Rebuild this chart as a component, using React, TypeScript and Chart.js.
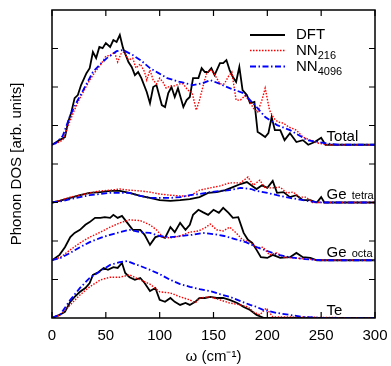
import React, { useEffect, useRef } from "react";
import { Chart, registerables } from "chart.js";

Chart.register(...registerables);

// ---- Data (DOS amplitudes in tick units, relative to each curve's baseline) ----
const OFFSET_TOTAL = 4.5;
const OFFSET_TETRA = 3.0;
const OFFSET_OCTA = 1.5;
const OFFSET_TE = 0;

const W_TOTAL_DFT = [0, 7, 12, 15, 18, 21, 24, 27, 32, 35, 38, 41, 44, 47, 50, 54, 57, 60, 63, 66, 71, 74, 77, 80, 83, 88, 91, 94, 97, 102, 105, 108, 111, 114, 117, 122, 125, 128, 131, 136, 139, 142, 145, 148, 151, 156, 159, 162, 165, 168, 171, 174, 177, 181, 184, 188, 191, 193, 198, 201, 204, 207, 212, 216, 221, 227, 233, 238, 244, 250, 254, 300];
const D_TOTAL_DFT = [0, 0.12, 0.2, 0.59, 0.85, 1.21, 1.29, 1.55, 1.86, 1.99, 2.41, 2.25, 2.54, 2.51, 2.64, 2.54, 2.72, 2.67, 2.85, 2.51, 2.15, 2.02, 1.81, 1.89, 1.73, 1.37, 1.08, 1.5, 1.55, 1.03, 0.98, 1.34, 1.5, 1.24, 1.47, 0.98, 1.16, 1.24, 1.73, 1.73, 1.99, 1.89, 1.89, 1.99, 1.81, 2.12, 2.12, 2.2, 1.94, 1.76, 1.63, 2.02, 1.42, 1.29, 1.08, 1.11, 0.33, 0.3, 0.2, 0.3, 0.72, 0.38, 0.38, 0.12, 0.3, 0.07, 0.12, 0, 0.07, 0.18, 0, 0];

const W_TOTAL_NN216 = [0, 5, 10, 15, 20, 25, 30, 35, 40, 45, 50, 55, 58, 61, 64, 67, 71, 75, 78, 82, 86, 88, 91, 94, 97, 100, 103, 106, 110, 114, 118, 122, 126, 130, 134, 137, 141, 144, 148, 152, 156, 160, 164, 167, 171, 175, 179, 183, 187, 191, 195, 198, 202, 206, 210, 215, 220, 227, 233, 240, 246, 255, 300];
const D_TOTAL_NN216 = [0, 0.05, 0.12, 0.49, 0.85, 1.16, 1.42, 1.68, 1.89, 2.07, 2.3, 2.33, 2.41, 2.15, 2.36, 2.41, 2.2, 2.25, 1.99, 2.1, 1.89, 1.68, 1.94, 1.68, 1.58, 1.73, 1.63, 1.47, 1.53, 1.53, 1.58, 1.58, 1.42, 1.37, 0.9, 1.16, 1.6, 1.89, 1.94, 1.78, 1.58, 1.58, 1.78, 1.89, 1.16, 1.16, 1.27, 1.16, 0.95, 0.85, 1.16, 1.47, 0.9, 0.69, 0.59, 0.56, 0.46, 0.38, 0.2, 0.12, 0.05, 0, 0];

const W_TOTAL_NN4096 = [0, 4, 10, 17, 23, 29, 38, 45, 51, 60, 66, 75, 83, 91, 99, 107, 119, 131, 140, 147, 156, 165, 178, 190, 198, 209, 221, 237, 252, 265, 300];
const D_TOTAL_NN4096 = [0, 0.05, 0.23, 0.77, 1.11, 1.42, 1.89, 2.1, 2.25, 2.43, 2.46, 2.33, 2.18, 1.99, 1.86, 1.73, 1.63, 1.55, 1.6, 1.68, 1.58, 1.47, 1.34, 0.98, 0.72, 0.51, 0.38, 0.12, 0.05, 0, 0];

const W_TETRA_DFT = [0, 7, 17, 26, 35, 45, 54, 63, 72, 82, 91, 100, 110, 119, 128, 137, 145, 153, 161, 168, 175, 181, 186, 190, 195, 200, 205, 209, 215, 221, 227, 233, 240, 246, 250, 253, 256, 300];
const D_TETRA_DFT = [0, 0.04, 0.12, 0.19, 0.25, 0.27, 0.3, 0.3, 0.25, 0.17, 0.12, 0.06, 0.04, 0.06, 0.09, 0.14, 0.25, 0.27, 0.32, 0.4, 0.48, 0.53, 0.43, 0.35, 0.45, 0.38, 0.56, 0.25, 0.27, 0.14, 0.19, 0.06, 0.06, 0, 0.14, 0, 0, 0];

const W_TETRA_NN216 = [0, 8, 17, 26, 35, 45, 54, 63, 72, 82, 91, 100, 110, 119, 128, 137, 147, 156, 165, 175, 182, 187, 193, 198, 205, 212, 218, 224, 230, 236, 242, 250, 300];
const D_TETRA_NN216 = [0, 0.06, 0.14, 0.19, 0.25, 0.3, 0.32, 0.35, 0.32, 0.3, 0.27, 0.22, 0.19, 0.17, 0.17, 0.32, 0.38, 0.43, 0.51, 0.51, 0.66, 0.45, 0.58, 0.38, 0.38, 0.4, 0.25, 0.27, 0.14, 0.14, 0, 0, 0];

const W_TETRA_NN4096 = [0, 10, 17, 26, 35, 45, 54, 63, 72, 82, 91, 100, 110, 119, 128, 137, 147, 156, 165, 175, 185, 190, 200, 209, 221, 233, 245, 255, 300];
const D_TETRA_NN4096 = [0, 0.04, 0.09, 0.14, 0.19, 0.22, 0.25, 0.25, 0.25, 0.17, 0.12, 0.12, 0.12, 0.14, 0.19, 0.22, 0.27, 0.3, 0.32, 0.38, 0.35, 0.3, 0.25, 0.19, 0.12, 0.06, 0.01, 0, 0];

const W_OCTA_DFT = [0, 7, 12, 17, 21, 26, 31, 35, 40, 45, 49, 54, 57, 61, 65, 70, 75, 82, 86, 91, 96, 100, 105, 110, 114, 119, 124, 128, 131, 136, 140, 145, 150, 155, 159, 164, 168, 173, 178, 182, 186, 190, 194, 200, 205, 212, 221, 227, 233, 240, 246, 300];
const D_OCTA_DFT = [0, 0.14, 0.34, 0.6, 0.71, 0.79, 0.92, 0.99, 1.1, 1.1, 1.12, 1.1, 1.18, 1.1, 1.15, 0.97, 0.79, 0.79, 0.66, 0.4, 0.6, 0.63, 0.58, 0.86, 0.73, 0.97, 0.79, 0.92, 1.18, 1.31, 1.25, 1.18, 1.31, 1.23, 1.36, 1.23, 1.1, 1.12, 0.71, 0.53, 0.45, 0.27, 0.08, 0.06, 0.14, 0.06, 0.08, 0.19, 0.08, 0.06, 0, 0];

const W_OCTA_NN216 = [0, 8, 17, 26, 35, 45, 54, 63, 72, 82, 91, 97, 103, 110, 119, 128, 136, 142, 147, 153, 159, 165, 171, 177, 184, 190, 196, 202, 209, 215, 225, 237, 250, 300];
const D_OCTA_NN216 = [0, 0.08, 0.27, 0.45, 0.6, 0.73, 0.86, 0.97, 1.05, 1.03, 0.92, 0.79, 0.6, 0.58, 0.63, 0.73, 0.76, 0.84, 0.94, 0.79, 0.76, 0.86, 0.71, 0.53, 0.47, 0.32, 0.34, 0.14, 0.19, 0.08, 0.06, 0.03, 0, 0];

const W_OCTA_NN4096 = [0, 8, 17, 26, 35, 45, 54, 63, 72, 82, 91, 100, 110, 120, 130, 140, 150, 160, 170, 180, 190, 200, 210, 220, 235, 250, 300];
const D_OCTA_NN4096 = [0, 0.06, 0.19, 0.34, 0.47, 0.58, 0.66, 0.73, 0.79, 0.73, 0.71, 0.63, 0.6, 0.63, 0.66, 0.71, 0.68, 0.63, 0.55, 0.47, 0.34, 0.24, 0.14, 0.08, 0.03, 0, 0];

const W_TE_DFT = [0, 7, 12, 17, 21, 26, 31, 35, 38, 43, 48, 52, 57, 61, 65, 68, 72, 77, 82, 86, 91, 96, 100, 105, 110, 114, 119, 124, 128, 133, 137, 142, 147, 153, 159, 165, 172, 178, 184, 190, 197, 300];
const D_TE_DFT = [0, 0.08, 0.16, 0.42, 0.55, 0.68, 0.78, 0.91, 1.12, 1.19, 1.3, 1.25, 1.32, 1.3, 1.43, 1.17, 1.06, 0.99, 1.04, 0.91, 0.7, 0.78, 0.47, 0.42, 0.52, 0.42, 0.34, 0.39, 0.34, 0.42, 0.52, 0.52, 0.55, 0.52, 0.52, 0.47, 0.39, 0.29, 0.21, 0.08, 0, 0];

const W_TE_NN216 = [0, 8, 17, 26, 35, 45, 54, 63, 72, 82, 91, 100, 110, 119, 128, 133, 137, 147, 156, 165, 175, 182, 187, 193, 199, 205, 300];
const D_TE_NN216 = [0, 0.08, 0.34, 0.6, 0.81, 0.99, 1.06, 1.06, 1.12, 0.99, 0.88, 0.68, 0.65, 0.55, 0.47, 0.39, 0.52, 0.55, 0.47, 0.39, 0.34, 0.29, 0.16, 0.08, 0.26, 0.03, 0];

const W_TE_NN4096 = [0, 8, 17, 26, 35, 45, 54, 63, 70, 77, 82, 91, 100, 110, 119, 128, 137, 147, 156, 165, 175, 184, 190, 196, 209, 221, 233, 250, 300];
const D_TE_NN4096 = [0, 0.1, 0.47, 0.78, 1.04, 1.22, 1.38, 1.45, 1.48, 1.4, 1.35, 1.25, 1.14, 0.99, 0.88, 0.81, 0.75, 0.7, 0.62, 0.55, 0.44, 0.34, 0.29, 0.21, 0.13, 0.08, 0.03, 0, 0];

const X_TICKS = [0, 50, 100, 150, 200, 250, 300];
const SERIES_NAMES = ["DFT", "NN", "NN"];
const SERIES_SUBS = ["", "216", "4096"];
const CURVE_LABELS = [
  { main: "Total", sub: "", offset: OFFSET_TOTAL },
  { main: "Ge", sub: "tetra", offset: OFFSET_TETRA },
  { main: "Ge", sub: "octa", offset: OFFSET_OCTA },
  { main: "Te", sub: "", offset: OFFSET_TE },
];
const LABEL_X = 255;

const FONT = "'Liberation Sans', Arial, Helvetica, sans-serif";

const STYLES = [
  { color: "#000000", width: 1.8, dash: [] as number[], order: 3 },
  { color: "#ff0000", width: 1.4, dash: [1.5, 1.5], order: 2 },
  { color: "#0000ff", width: 1.8, dash: [6, 2.5, 1.5, 2.5], order: 1 },
];

function pts(w: number[], d: number[], off: number) {
  return w.map((x, i) => ({ x, y: d[i] + off }));
}

const framePlugin = {
  id: "frameTicks",
  afterDatasetsDraw(chart: any) {
    const { ctx, chartArea: a, scales } = chart;
    const xs = scales.x;
    const ys = scales.y;
    ctx.save();
    ctx.strokeStyle = "#000";
    ctx.lineWidth = 1.5;
    ctx.setLineDash([]);
    ctx.strokeRect(a.left, a.top, a.right - a.left, a.bottom - a.top);
    const tl = 6;
    ctx.lineWidth = 1.2;
    ctx.beginPath();
    for (const t of X_TICKS) {
      const px = xs.getPixelForValue(t);
      ctx.moveTo(px, a.top);
      ctx.lineTo(px, a.top + tl);
      ctx.moveTo(px, a.bottom);
      ctx.lineTo(px, a.bottom - tl);
    }
    for (let v = 1; v < 8; v++) {
      const py = ys.getPixelForValue(v);
      ctx.moveTo(a.left, py);
      ctx.lineTo(a.left + tl, py);
      ctx.moveTo(a.right, py);
      ctx.lineTo(a.right - tl, py);
    }
    ctx.stroke();

    // curve labels
    ctx.fillStyle = "#000";
    ctx.textBaseline = "alphabetic";
    ctx.textAlign = "left";
    for (const lb of CURVE_LABELS) {
      const px = xs.getPixelForValue(LABEL_X);
      const py = ys.getPixelForValue(lb.offset) - 3.5;
      ctx.font = `15px ${FONT}`;
      ctx.fillText(lb.main, px, py);
      if (lb.sub) {
        const w = ctx.measureText(lb.main + " ").width;
        ctx.font = `11px ${FONT}`;
        ctx.fillText(lb.sub, px + w + 1, py);
      }
    }

    // legend
    const lx0 = a.left + 198;
    const lx1 = a.left + 233;
    const tx = a.left + 244;
    const rows = [a.top + 25, a.top + 40.5, a.top + 56.5];
    for (let i = 0; i < 3; i++) {
      const s = STYLES[i];
      ctx.strokeStyle = s.color;
      ctx.lineWidth = s.width;
      ctx.setLineDash(s.dash);
      ctx.beginPath();
      ctx.moveTo(lx0, rows[i]);
      ctx.lineTo(lx1, rows[i]);
      ctx.stroke();
      ctx.setLineDash([]);
      ctx.fillStyle = "#000";
      ctx.font = `15px ${FONT}`;
      ctx.textBaseline = "middle";
      ctx.fillText(SERIES_NAMES[i], tx, rows[i]);
      if (SERIES_SUBS[i]) {
        const w = ctx.measureText(SERIES_NAMES[i]).width;
        ctx.font = `11px ${FONT}`;
        ctx.fillText(SERIES_SUBS[i], tx + w, rows[i] + 5);
      }
    }
    ctx.restore();
  },
};

export default function App() {
  const ref = useRef<HTMLCanvasElement | null>(null);
  useEffect(() => {
    document.body.style.margin = "0";
    const canvas = ref.current;
    if (!canvas) return;
    const groups = [
      [W_TOTAL_DFT, D_TOTAL_DFT, W_TOTAL_NN216, D_TOTAL_NN216, W_TOTAL_NN4096, D_TOTAL_NN4096, OFFSET_TOTAL],
      [W_TETRA_DFT, D_TETRA_DFT, W_TETRA_NN216, D_TETRA_NN216, W_TETRA_NN4096, D_TETRA_NN4096, OFFSET_TETRA],
      [W_OCTA_DFT, D_OCTA_DFT, W_OCTA_NN216, D_OCTA_NN216, W_OCTA_NN4096, D_OCTA_NN4096, OFFSET_OCTA],
      [W_TE_DFT, D_TE_DFT, W_TE_NN216, D_TE_NN216, W_TE_NN4096, D_TE_NN4096, OFFSET_TE],
    ] as any[];
    const datasets: any[] = [];
    for (const g of groups) {
      for (let k = 0; k < 3; k++) {
        const s = STYLES[k];
        datasets.push({
          label: SERIES_NAMES[k] + SERIES_SUBS[k],
          data: pts(g[2 * k], g[2 * k + 1], g[6]),
          borderColor: s.color,
          borderWidth: s.width,
          borderDash: s.dash,
          pointRadius: 0,
          tension: 0,
          fill: false,
          order: s.order,
        });
      }
    }
    const chart = new Chart(canvas, {
      type: "line",
      data: { datasets },
      options: {
        animation: false,
        responsive: false,
        layout: { padding: { left: 0, right: 16, top: 10, bottom: 0 } },
        plugins: { legend: { display: false }, tooltip: { enabled: false } },
        scales: {
          x: {
            type: "linear",
            min: 0,
            max: 300,
            grid: { display: false, drawTicks: false },
            border: { display: false },
            afterFit: (s: any) => {
              s.height = 48;
              s.paddingLeft = 0;
              s.paddingRight = 0;
            },
            afterBuildTicks: (s: any) => {
              s.ticks = X_TICKS.map((v) => ({ value: v }));
            },
            ticks: {
              color: "#000",
              padding: 9,
              maxRotation: 0,
              font: { family: FONT, size: 15 },
            },
            title: {
              display: true,
              text: "ω (cm⁻¹)",
              color: "#000",
              padding: { top: 2, bottom: 0 },
              font: { family: FONT, size: 15 },
            },
          },
          y: {
            type: "linear",
            min: 0,
            max: 8,
            grid: { display: false, drawTicks: false },
            border: { display: false },
            afterFit: (s: any) => {
              s.width = 52;
              s.paddingTop = 0;
              s.paddingBottom = 0;
            },
            ticks: { display: false, stepSize: 1 },
            title: {
              display: true,
              text: "Phonon DOS [arb. units]",
              color: "#000",
              padding: { top: 8, bottom: 0 },
              font: { family: FONT, size: 15 },
            },
          },
        },
      },
      plugins: [framePlugin],
    });
    return () => chart.destroy();
  }, []);
  return <canvas ref={ref} width={391} height={366} style={{ display: "block" }} />;
}
